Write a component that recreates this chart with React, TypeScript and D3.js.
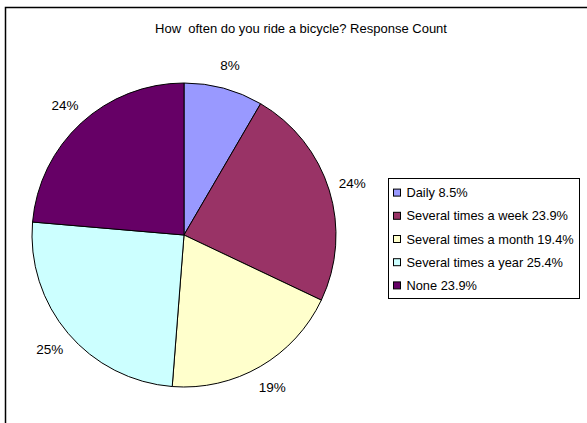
import React from "react";
import * as d3 from "d3";

const categories = ["Daily", "Several times a week", "Several times a month", "Several times a year", "None"];
const values = [8.5, 23.9, 19.4, 25.4, 23.9];
const legendLabels = ["Daily 8.5%", "Several times a week 23.9%", "Several times a month 19.4%", "Several times a year 25.4%", "None 23.9%"];
const colors = ["#9999FF", "#993366", "#FFFFCC", "#CCFFFF", "#660066"];
const title = "How  often do you ride a bicycle? Response Count";

const W = 587;
const H = 423;
const FONT = "'Liberation Sans', Arial, sans-serif";

export default function App() {
  const cx = 184;
  const cy = 235;
  const r = 152;
  const labelR = 176;
  const total = d3.sum(values);
  const pie = d3.pie<number>().sort(null).value((d) => d)(values);
  const arc = d3.arc<d3.PieArcDatum<number>>().innerRadius(0).outerRadius(r);
  const labelArc = d3.arc<d3.PieArcDatum<number>>().innerRadius(labelR).outerRadius(labelR);

  const legendY = d3.scaleBand<number>().domain(d3.range(categories.length)).range([181, 297]);

  return (
    <svg width={W} height={H} style={{ position: "absolute", left: 0, top: 0 }}>
      <rect x={0} y={0} width={W} height={H} fill="#fff" />
      <rect x={5.5} y={7.5} width={W + 20} height={H + 20} fill="#fff" stroke="#000" strokeWidth={1.5} />
      <text x={301} y={32.5} textAnchor="middle" fontFamily={FONT} fontSize={13} fill="#000" style={{ whiteSpace: "pre" }}>
        {title}
      </text>
      <g transform={`translate(${cx},${cy})`}>
        {pie.map((p, i) => (
          <path key={categories[i]} d={arc(p) || ""} fill={colors[i]} stroke="#000" strokeWidth={1} />
        ))}
        {pie.map((p, i) => {
          const [lx, ly] = labelArc.centroid(p);
          return (
            <text key={"l" + i} x={lx} y={ly} dy="0.35em" textAnchor="middle" fontFamily={FONT} fontSize={13.5} fill="#000">
              {d3.format(".0%")(p.value / total)}
            </text>
          );
        })}
      </g>
      <rect x={388.5} y={178.5} width={191} height={120} fill="#fff" stroke="#000" strokeWidth={1} />
      {legendLabels.map((t, i) => {
        const y = (legendY(i) || 0) + legendY.bandwidth() / 2;
        return (
          <g key={"lg" + i}>
            <rect x={393.5} y={y - 3.5} width={7} height={7} fill={colors[i]} stroke="#000" strokeWidth={1} />
            <text x={406.5} y={y} dy="0.36em" fontFamily={FONT} fontSize={12.8} fill="#000">
              {t}
            </text>
          </g>
        );
      })}
    </svg>
  );
}
